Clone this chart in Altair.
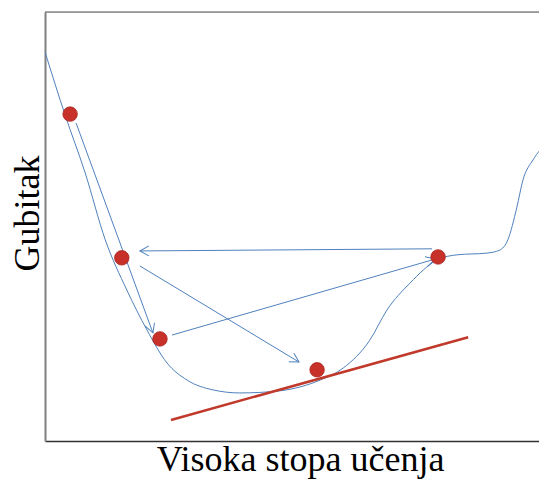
import math
import altair as alt
import pandas as pd

# ---- data (in arbitrary units: x 0..10, loss 0..10) ----
curve_x = [0.0, 0.40, 0.80, 1.20, 1.63, 2.03, 2.43, 2.83, 3.35, 3.88, 4.68, 5.08,
           5.48, 5.94, 6.47, 6.81, 7.27, 7.81, 8.21, 8.80, 9.06, 9.22, 9.40, 9.52,
           9.72, 10.0]
curve_y = [9.07, 7.60, 6.25, 4.69, 3.52, 2.59, 1.82, 1.42, 1.19, 1.12, 1.17, 1.26,
           1.42, 1.70, 2.35, 3.05, 3.68, 4.22, 4.34, 4.38, 4.45, 4.69, 5.45, 6.08,
           6.55, 6.95]

dot_x = [0.50, 1.53, 2.29, 5.42, 7.83]
dot_y = [7.62, 4.27, 2.38, 1.66, 4.29]

tangent_x = [2.51, 8.43]
tangent_y = [0.49, 2.42]

arrow_x1 = [0.62, 7.71, 1.89, 2.53]
arrow_y1 = [7.41, 4.48, 4.08, 2.47]
arrow_x2 = [2.15, 1.89, 5.06, 7.77]
arrow_y2 = [2.52, 4.43, 1.84, 4.24]

x_title = "Visoka stopa učenja"
y_title = "Gubitak"

# ---- layout ----
PX_PER_X = 50.2          # horizontal pixels per data unit
PX_PER_Y = 42.9          # vertical pixels per data unit
W, H = 494, 429
X_MAX = W / PX_PER_X     # visible part of the x range
BLUE = "#4f81bd"
RED = "#c0392b"
FONT = "Liberation Serif"

xs = alt.Scale(domain=[0, X_MAX], nice=False, zero=False)
ys = alt.Scale(domain=[0, 10], nice=False, zero=False)

curve_df = pd.DataFrame({"x": curve_x, "y": curve_y})
dots_df = pd.DataFrame({"x": dot_x, "y": dot_y})
tan_df = pd.DataFrame({"x": tangent_x, "y": tangent_y})
arr_df = pd.DataFrame({"x": arrow_x1, "y": arrow_y1, "x2": arrow_x2, "y2": arrow_y2})
# screen-space angle of each arrow for the arrowhead orientation
arr_df["angle"] = [
    (math.degrees(math.atan2(-(b2 - b1) * PX_PER_Y, (a2 - a1) * PX_PER_X)) + 360) % 360
    for a1, b1, a2, b2 in zip(arrow_x1, arrow_y1, arrow_x2, arrow_y2)
]

x_enc = alt.X("x:Q", scale=xs, axis=alt.Axis(
    title=x_title, labels=False, ticks=False, grid=False,
    domainColor="#333333", domainWidth=1.5,
    titleFont=FONT, titleFontSize=36, titleFontWeight="normal", titleColor="#000000",
    titleX=255, titleY=29, titleBaseline="alphabetic", titleAlign="center"))
y_enc = alt.Y("y:Q", scale=ys, axis=alt.Axis(
    title=y_title, labels=False, ticks=False, grid=False,
    domainColor="#808080", domainWidth=2,
    titleFont=FONT, titleFontSize=36, titleFontWeight="normal", titleColor="#000000",
    titleX=-7, titleY=201, titleAngle=270, titleBaseline="alphabetic",
    titleAlign="center"))

curve = alt.Chart(curve_df).mark_line(
    color=BLUE, strokeWidth=1, interpolate="monotone", clip=True).encode(x=x_enc, y=y_enc)

top_border = alt.Chart(pd.DataFrame({"y": [10]})).mark_rule(
    color="#555555", strokeWidth=1.2).encode(y=alt.Y("y:Q", scale=ys))

arrows = alt.Chart(arr_df).mark_rule(color=BLUE, strokeWidth=1).encode(
    x=alt.X("x:Q", scale=xs), y=alt.Y("y:Q", scale=ys),
    x2="x2:Q", y2="y2:Q")

heads = alt.Chart(arr_df).mark_point(
    shape="M -1 -0.55 L 0 0 L -1 0.55", filled=False, color=BLUE,
    strokeWidth=1, size=324, opacity=1).encode(
    x=alt.X("x2:Q", scale=xs), y=alt.Y("y2:Q", scale=ys),
    angle=alt.Angle("angle:Q", scale=None))

tangent = alt.Chart(tan_df).mark_line(color=RED, strokeWidth=2.5).encode(
    x=alt.X("x:Q", scale=xs), y=alt.Y("y:Q", scale=ys))

dots = alt.Chart(dots_df).mark_circle(
    color="#c8302a", size=210, opacity=1, stroke="#a82420", strokeWidth=0.8).encode(
    x=alt.X("x:Q", scale=xs), y=alt.Y("y:Q", scale=ys))

chart = alt.layer(curve, top_border, arrows, heads, tangent, dots).properties(
    width=W, height=H,
    autosize=alt.AutoSizeParams(type="none"),
    padding={"left": 37, "top": 4, "right": 0, "bottom": 38},
).configure_view(stroke=None).configure(background="white")

chart.save("out.html", embed_options={"renderer": "svg", "actions": False})
